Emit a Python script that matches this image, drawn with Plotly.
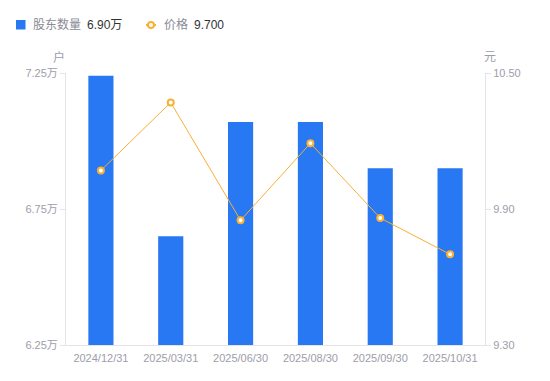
import plotly.graph_objects as go

dates = ["2024/12/31", "2025/03/31", "2025/06/30", "2025/08/30", "2025/09/30", "2025/10/31"]
holders = [7.24, 6.65, 7.07, 7.07, 6.90, 6.90]  # 万户
prices = [10.07, 10.37, 9.85, 10.19, 9.86, 9.70]  # 元
left_ticks = [6.25, 6.75, 7.25]
left_labels = ["6.25万", "6.75万", "7.25万"]
right_ticks = [9.30, 9.90, 10.50]
right_labels = ["9.30", "9.90", "10.50"]
legend_names = ["股东数量", "价格"]
legend_values = ["6.90万", "9.700"]

FONT = "Liberation Sans, Arial, Noto Sans CJK SC, sans-serif"
GREY = "#9d9daa"
BLUE = "#2877f3"
ORANGE = "#f8b133"

# page layout (page has 8px body offset)
OFF = 8
PL, PR, PT, PB = 66, 485, 73, 345
W, H = 550 - OFF, 381 - OFF


def px(x):
    return (x - PL) / (PR - PL)


def py(y):
    return (PB - y) / (PB - PT)


fig = go.Figure()
fig.add_trace(go.Bar(
    x=dates, y=holders, marker=dict(color=BLUE, line=dict(width=0)),
    name=legend_names[0], yaxis="y"))
fig.add_trace(go.Scatter(
    x=dates, y=prices, mode="lines+markers", yaxis="y2",
    line=dict(color=ORANGE, width=1),
    marker=dict(size=6, color="white", line=dict(color=ORANGE, width=2)),
    name=legend_names[1]))

axis_common = dict(showgrid=False, zeroline=False, showline=True, linecolor="#e3e3e8",
                   linewidth=1, ticks="outside", ticklen=5, tickcolor="#e3e3e8",
                   tickfont=dict(size=11, color=GREY, family=FONT))

annotations = [
    dict(text="户", x=px(59), y=py(57)),
    dict(text="元", x=px(490), y=py(57)),
]
for a in annotations:
    a.update(xref="paper", yref="paper", showarrow=False, xanchor="center", yanchor="middle",
             font=dict(size=12, color=GREY, family=FONT))

legend_ann = [
    dict(text=legend_names[0], x=px(31), font=dict(size=12, color="#8a8a96", family=FONT)),
    dict(text=legend_values[0], x=px(85), font=dict(size=12, color="#333", family=FONT)),
    dict(text=legend_names[1], x=px(162), font=dict(size=12, color="#8a8a96", family=FONT)),
    dict(text=legend_values[1], x=px(192), font=dict(size=12, color="#333", family=FONT)),
]
for a in legend_ann:
    a.update(xref="paper", yref="paper", y=py(24.5), showarrow=False,
             xanchor="left", yanchor="middle")
annotations += legend_ann

shapes = [
    dict(type="rect", xref="paper", yref="paper", x0=px(16), x1=px(25.5),
         y0=py(29.5), y1=py(20), fillcolor=BLUE, line=dict(width=0)),
    dict(type="line", xref="paper", yref="paper", x0=px(146), x1=px(156),
         y0=py(25), y1=py(25), line=dict(color=ORANGE, width=2)),
    dict(type="circle", xref="paper", yref="paper", x0=px(148), x1=px(154),
         y0=py(28), y1=py(22), fillcolor="white", line=dict(color=ORANGE, width=2)),
]

fig.update_layout(
    width=W, height=H,
    margin=dict(l=PL - OFF, r=OFF + W - PR, t=PT - OFF, b=OFF + H - PB),
    paper_bgcolor="white", plot_bgcolor="white",
    font=dict(family=FONT, size=12, color="#666"),
    bargap=0.64,
    showlegend=False,
    xaxis=dict(showgrid=False, zeroline=False, showline=True, linecolor="#e3e3e8",
               ticks="outside", ticklen=3, tickcolor="rgba(0,0,0,0)",
               tickfont=dict(size=11, color=GREY, family=FONT)),
    yaxis=dict(range=[6.25, 7.25], tickvals=left_ticks, ticktext=left_labels, **axis_common),
    yaxis2=dict(range=[9.30, 10.50], tickvals=right_ticks, ticktext=right_labels,
                overlaying="y", side="right", **axis_common),
    annotations=annotations,
    shapes=shapes,
)

fig.write_html("out.html")
